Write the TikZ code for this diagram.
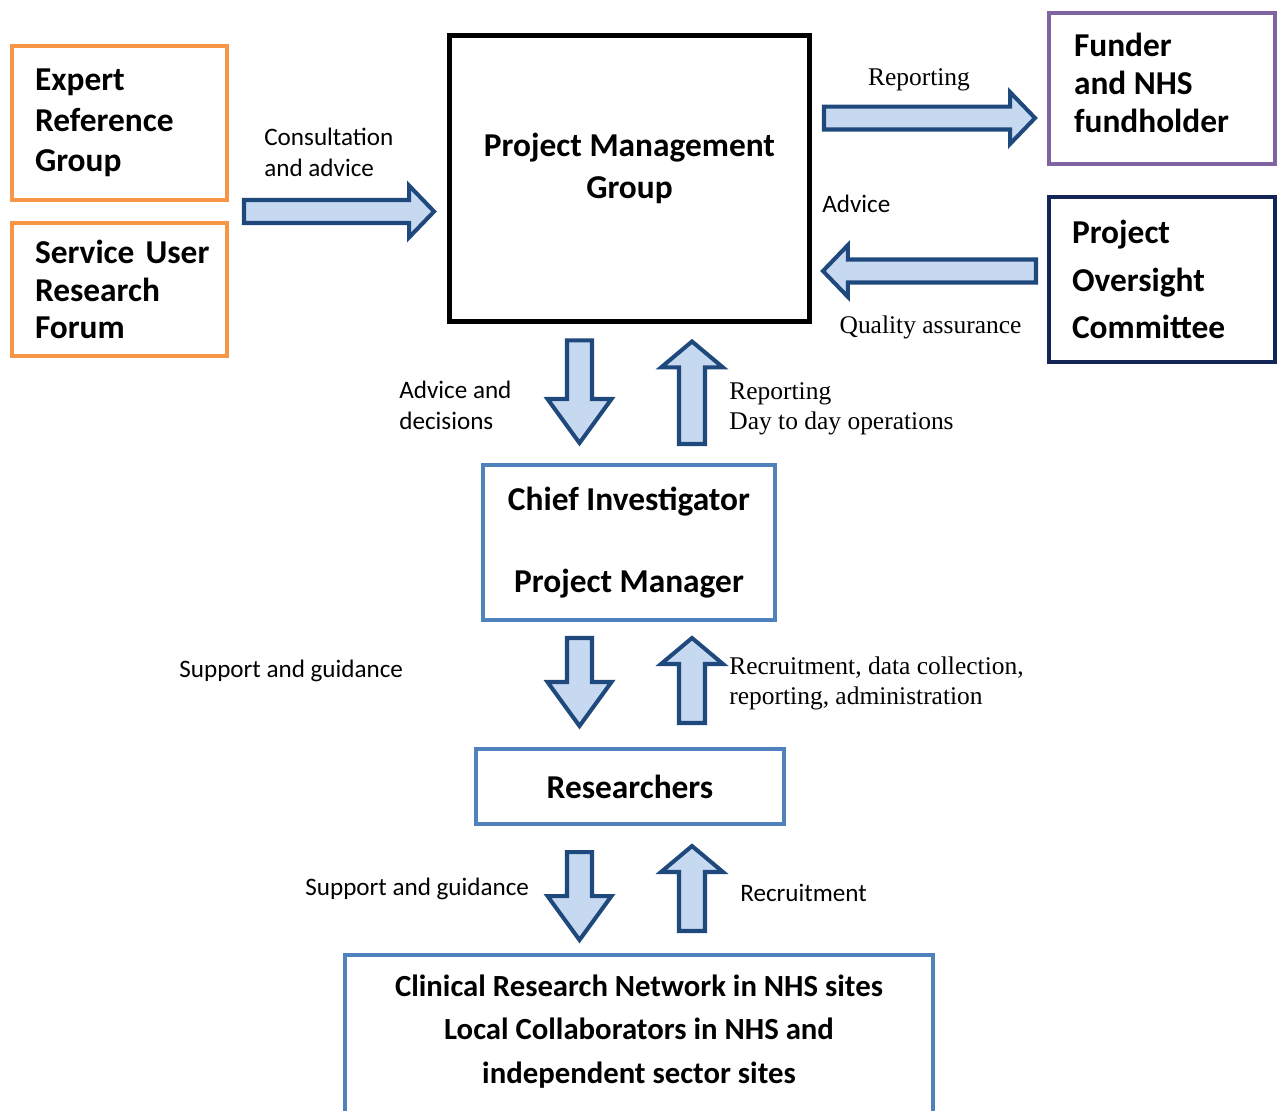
\documentclass[tikz,border=0pt]{standalone}
\usepackage{fontspec}
\setmainfont{Carlito}
\newfontfamily\tnr{Liberation Serif}
\usetikzlibrary{calc}

\definecolor{orangeBox}{HTML}{F79646}
\definecolor{purpleBox}{HTML}{8064A2}
\definecolor{navyBox}{HTML}{142657}
\definecolor{steelBox}{HTML}{4F81BD}
\definecolor{arrowLine}{HTML}{1F497D}
\definecolor{arrowFill}{HTML}{C6D9F1}

\begin{document}
\begin{tikzpicture}[x=0.02cm, y=0.02cm,
    box/.style={rectangle, draw=black, line width=2.3pt, fill=white, font=\bfseries\fontsize{19}{23}\selectfont},
    sideBox/.style={box, inner xsep=0.46cm, align=left},
    mainBox/.style={box, draw=steelBox, align=center},
    sansLabel/.style={font=\fontsize{14.3}{17.6}\selectfont, align=left, inner sep=0pt},
    serifLabel/.style={font=\tnr\fontsize{14.5}{17}\selectfont, align=left, inner sep=0pt},
    fatArrow/.style n args={3}{draw=arrowLine, fill=arrowFill, line width=2.3pt, line join=miter,
        to path={let \n1={veclen(#3,#1)}, \n2={atan2(#1,#3)}, \n3={veclen(#3,#2)}, \n4={atan2(#2,#3)} in
            ($(\tikztostart)!#1!90:(\tikztotarget)$) -- ($(\tikztotarget)!\n1!-\n2:(\tikztostart)$)
            -- ($(\tikztotarget)!\n3!-\n4:(\tikztostart)$) -- (\tikztotarget)
            -- ($(\tikztotarget)!\n3!\n4:(\tikztostart)$) -- ($(\tikztotarget)!\n1!\n2:(\tikztostart)$)
            -- ($(\tikztostart)!#1!-90:(\tikztotarget)$) -- cycle}},
    sideArrow/.style={fatArrow={0.23cm}{0.52cm}{0.5cm}},
    downArrow/.style={fatArrow={0.25cm}{0.64cm}{0.88cm}},
    upArrow/.style={fatArrow={0.26cm}{0.62cm}{0.52cm}}
]
\useasboundingbox (0,0) rectangle (1277,-1111);

% Boxes
\node[sideBox, draw=orangeBox, minimum width=4.3cm, minimum height=3.08cm, text width=3.38cm] (erg) at (119.5,-123) {Expert\\Reference\\Group};
\node[sideBox, draw=orangeBox, minimum width=4.3cm, minimum height=2.66cm, text width=3.38cm, font=\bfseries\fontsize{19}{21.3}\selectfont] (surf) at (119.5,-289.5) {Service~User\\Research\\Forum};
\node[box, line width=2.85pt, minimum width=7.2cm, minimum height=5.72cm] (pmg) at (629.5,-178.5) {};
\node[box, draw=none, fill=none, align=center, font=\bfseries\fontsize{19}{23.9}\selectfont] (pmgText) at (629.5,-168) {Project Management\\Group};
\node[sideBox, draw=purpleBox, minimum width=4.52cm, minimum height=3.02cm] (funder) at (1162,-88.5) {};
\node[sideBox, draw=none, fill=none, anchor=west, font=\bfseries\fontsize{19}{21.6}\selectfont] (funderText) at (1049,-83) {Funder\\and NHS\\fundholder};
\node[sideBox, draw=navyBox, minimum width=4.52cm, minimum height=3.3cm, text width=3.6cm, font=\bfseries\fontsize{19}{27}\selectfont] (poc) at (1162,-279.5) {Project\\Oversight\\Committee};
\node[mainBox, minimum width=5.84cm, minimum height=3.1cm] (cipm) at (629,-542.5) {Chief Investigator\\[23.6pt]Project Manager};
\node[mainBox, minimum width=6.16cm, minimum height=1.5cm] (res) at (630,-786.5) {Researchers};
\node[mainBox, minimum width=11.76cm, minimum height=3.22cm] (crn) at (639,-1035.5) {};
\node[mainBox, draw=none, fill=none, font=\bfseries\fontsize{17.5}{24.8}\selectfont] (crnText) at (639,-1031.5) {Clinical Research Network in NHS sites\\Local Collaborators in NHS and\\independent sector sites};

% Horizontal block arrows
\coordinate (consStart) at ($(erg.south east)!0.5!(surf.north east)+(15,0)$);
\draw[sideArrow] (consStart) to ($(pmg.west|-consStart)+(-13,0)$);
\coordinate (repStart) at ($(pmg.north east)+(12,-85)$);
\draw[sideArrow] (repStart) to ($(funder.west|-repStart)+(-12,0)$);
\coordinate (qaStart) at ($(poc.west)+(-11,8.5)$);
\draw[sideArrow] (qaStart) to ($(pmg.east|-qaStart)+(11,0)$);

% Vertical block arrows
\draw[downArrow] ($(pmg.south)+(-50,-16.5)$) to ($(cipm.north)+(-49.5,20)$);
\draw[upArrow] ($(cipm.north)+(63,19)$) to ($(pmg.south)+(62.5,-17.5)$);
\draw[downArrow] ($(cipm.south)+(-49.5,-16)$) to ($(res.north)+(-50.5,21)$);
\draw[upArrow] ($(res.north)+(62,24)$) to ($(cipm.south)+(63,-16)$);
\draw[downArrow] ($(res.south)+(-50.5,-26)$) to ($(crn.north)+(-59.5,13)$);
\draw[upArrow] ($(crn.north)+(53,22)$) to ($(res.south)+(62,-20)$);

% Labels
\node[sansLabel, anchor=west] (consLabel) at (264,-152.5) {Consultation\\and advice};
\node[serifLabel] (repLabel) at (919,-80) {Reporting};
\node[sansLabel, anchor=west] (adviceLabel) at (822,-204) {Advice};
\node[serifLabel] (qaLabel) at (930.5,-327) {Quality assurance};
\node[sansLabel, anchor=west] (decLabel) at (399,-405.5) {Advice and\\decisions};
\node[serifLabel, anchor=west] (dayLabel) at (729,-409) {Reporting\\Day to day operations};
\node[sansLabel, anchor=west] (supLabelA) at (179,-671) {Support and guidance};
\node[serifLabel, anchor=west] (recLabelA) at (729,-683.5) {Recruitment, data collection,\\reporting, administration};
\node[sansLabel, anchor=west] (supLabelB) at (305,-889) {Support and guidance};
\node[sansLabel, anchor=west] (recLabelB) at (740,-893) {Recruitment};

\end{tikzpicture}
\end{document}
